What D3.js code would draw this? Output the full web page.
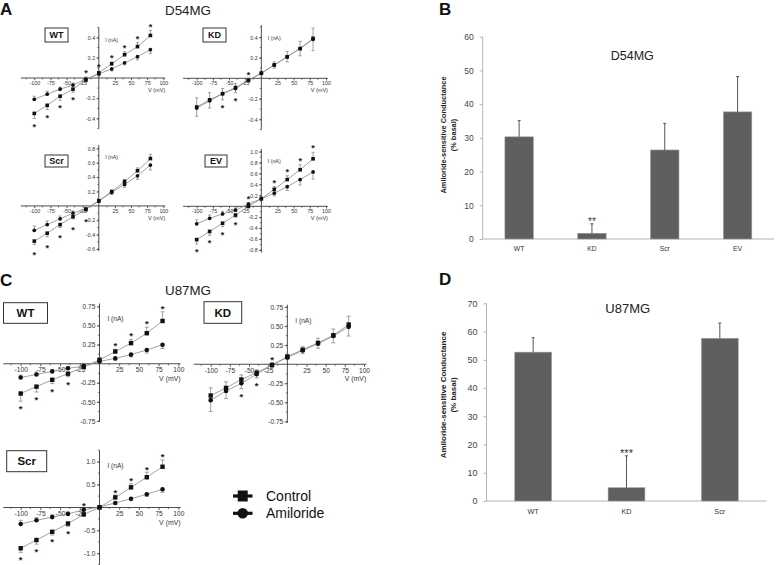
<!DOCTYPE html>
<html><head><meta charset="utf-8">
<script src="https://cdn.jsdelivr.net/npm/d3@7"></script>
<style>body{margin:0;background:#fff} svg{display:block;font-family:"Liberation Sans",Arial,sans-serif}</style>
</head><body><svg id="c" width="777" height="565"></svg>
<script>
// ---------------- DATA ----------------
const voltages = [-100, -80, -60, -40, -20, 0, 20, 40, 60, 80];
const ivXTicks = [-100, -75, -50, -25, 25, 50, 75, 100];

// Panel A (D54MG)
const aWT_control   = [-0.35, -0.27, -0.18, -0.11, -0.02, 0.05, 0.14, 0.23, 0.31, 0.42];
const aWT_amiloride = [-0.21, -0.16, -0.11, -0.07, -0.01, 0.04, 0.09, 0.15, 0.21, 0.28];
const aWT_controlErr   = [0.05, 0.04, 0.04, 0.03, 0.02, 0.02, 0.02, 0.03, 0.04, 0.05];
const aWT_amilorideErr = [0.03, 0.03, 0.02, 0.02, 0.02, 0.02, 0.02, 0.02, 0.03, 0.04];
const aWT_starsBelow = [-100, -80, -60, -40];
const aWT_starsAbove = [-20, 0, 20, 40, 60, 80];
const aWT_yTicks = [0.4, 0.2, -0.2, -0.4];

const aKD_control   = [-0.28, -0.21, -0.15, -0.09, -0.02, 0.05, 0.13, 0.21, 0.29, 0.39];
const aKD_amiloride = [-0.29, -0.22, -0.15, -0.10, -0.02, 0.05, 0.13, 0.21, 0.29, 0.38];
const aKD_controlErr   = [0.09, 0.07, 0.06, 0.04, 0.02, 0.02, 0.03, 0.05, 0.07, 0.10];
const aKD_amilorideErr = [0.08, 0.07, 0.05, 0.04, 0.02, 0.02, 0.03, 0.05, 0.07, 0.11];
const aKD_starsBelow = [-60, -40];
const aKD_starsAbove = [-20];
const aKD_yTicks = [0.4, 0.2, -0.2, -0.4];

const aScr_control   = [-0.49, -0.38, -0.26, -0.15, -0.05, 0.07, 0.20, 0.34, 0.49, 0.66];
const aScr_amiloride = [-0.34, -0.26, -0.18, -0.10, -0.04, 0.07, 0.19, 0.30, 0.42, 0.57];
const aScr_controlErr   = [0.05, 0.05, 0.04, 0.03, 0.02, 0.02, 0.02, 0.03, 0.04, 0.06];
const aScr_amilorideErr = [0.06, 0.05, 0.04, 0.03, 0.02, 0.02, 0.03, 0.04, 0.05, 0.07];
const aScr_starsBelow = [-100, -80, -60, -40, -20];
const aScr_starsAbove = [];
const aScr_yTicks = [0.8, 0.6, 0.4, 0.2, -0.2, -0.4, -0.6];

const aEV_control   = [-0.61, -0.46, -0.31, -0.16, 0.00, 0.14, 0.31, 0.49, 0.67, 0.87];
const aEV_amiloride = [-0.32, -0.22, -0.14, -0.07, 0.04, 0.14, 0.24, 0.36, 0.49, 0.63];
const aEV_controlErr   = [0.08, 0.07, 0.06, 0.04, 0.03, 0.03, 0.05, 0.07, 0.09, 0.12];
const aEV_amilorideErr = [0.07, 0.06, 0.05, 0.04, 0.03, 0.03, 0.05, 0.07, 0.10, 0.13];
const aEV_starsBelow = [-100, -80, -60, -40];
const aEV_starsAbove = [-20, 20, 40, 60, 80];
const aEV_yTicks = [1.0, 0.8, 0.6, 0.4, 0.2, -0.2, -0.4, -0.6, -0.8];

// Panel C (U87MG)
const cWT_control   = [-0.39, -0.30, -0.21, -0.13, -0.04, 0.05, 0.16, 0.27, 0.40, 0.56];
const cWT_amiloride = [-0.18, -0.14, -0.10, -0.06, -0.03, 0.03, 0.07, 0.12, 0.18, 0.25];
const cWT_controlErr   = [0.10, 0.07, 0.05, 0.04, 0.03, 0.03, 0.03, 0.05, 0.08, 0.12];
const cWT_amilorideErr = [0.03, 0.03, 0.02, 0.02, 0.02, 0.02, 0.02, 0.03, 0.04, 0.05];
const cWT_starsBelow = [-100, -80, -60, -40];
const cWT_starsAbove = [20, 40, 60, 80];
const cWT_yTicks = [0.75, 0.5, 0.25, -0.25, -0.5, -0.75];

const cKD_control   = [-0.41, -0.31, -0.20, -0.11, -0.01, 0.10, 0.19, 0.28, 0.38, 0.52];
const cKD_amiloride = [-0.47, -0.35, -0.25, -0.13, -0.01, 0.09, 0.18, 0.27, 0.37, 0.49];
const cKD_controlErr   = [0.10, 0.08, 0.06, 0.04, 0.03, 0.03, 0.04, 0.06, 0.08, 0.11];
const cKD_amilorideErr = [0.15, 0.10, 0.07, 0.05, 0.03, 0.03, 0.04, 0.06, 0.09, 0.12];
const cKD_starsBelow = [-60, -40];
const cKD_starsAbove = [-20];
const cKD_yTicks = [0.75, 0.5, 0.25, -0.25, -0.5, -0.75];

const cScr_control   = [-0.89, -0.71, -0.53, -0.35, -0.15, 0.00, 0.22, 0.44, 0.66, 0.89];
const cScr_amiloride = [-0.36, -0.28, -0.21, -0.14, -0.05, 0.01, 0.10, 0.19, 0.29, 0.40];
const cScr_controlErr   = [0.09, 0.09, 0.07, 0.06, 0.04, 0.03, 0.05, 0.08, 0.11, 0.15];
const cScr_amilorideErr = [0.08, 0.06, 0.05, 0.04, 0.03, 0.02, 0.03, 0.04, 0.05, 0.07];
const cScr_starsBelow = [-100, -80, -60, -40];
const cScr_starsAbove = [-20, 20, 40, 60, 80];
const cScr_yTicks = [1.0, 0.5, -0.5, -1.0];

// Panel B (D54MG bars)
const bCategories = ["WT", "KD", "Scr", "EV"];
const bValues = [30.3, 1.7, 26.4, 37.7];
const bErrors = [4.8, 2.8, 7.9, 10.5];
const bSignif = ["", "**", "", ""];
const bYTicks = [0, 10, 20, 30, 40, 50, 60];

// Panel D (U87MG bars)
const dCategories = ["WT", "KD", "Scr"];
const dValues = [52.7, 4.7, 57.6];
const dErrors = [5.1, 11.3, 5.4];
const dSignif = ["", "***", ""];
const dYTicks = [0, 10, 20, 30, 40, 50, 60, 70];

const legendLabels = ["Control", "Amiloride"];

// ---------------- DRAW ----------------
const svg = d3.select("#c");
const hy = s => s.replace("\u2212", "-");

function drawIV(cfg, label, ctrl, amil, ctrlErr, amilErr, starsBelow, starsAbove, yTicks) {
  const x = d3.scaleLinear().domain([-100, 100]).range([cfg.x1, cfg.x2]);
  const y = d3.scaleLinear().domain([cfg.yv1, cfg.yv2]).range([cfg.yp1, cfg.yp2]);
  const g = svg.append("g");
  const x0 = x(0), y0 = y(0);
  const axisCol = "#3a3a3a";

  const xMinor = d3.range(-112.5, 100, 25);
  g.selectAll(".xm").data(xMinor).join("line")
    .attr("x1", d => x(d)).attr("x2", d => x(d)).attr("y1", y0).attr("y2", y0 + 1.5)
    .attr("stroke", axisCol).attr("stroke-width", 0.7);
  const ystep = Math.abs(yTicks[0] - yTicks[1]);
  const yMinor = d3.range(-Math.floor(Math.abs(cfg.ymin) / (ystep / 2)), Math.floor(cfg.ymax / (ystep / 2)) + 1)
    .map(k => k * ystep / 2).filter(v => Math.abs(v) > 1e-9);
  g.selectAll(".ym").data(yMinor).join("line")
    .attr("x1", x0 - 1.5).attr("x2", x0).attr("y1", d => y(d)).attr("y2", d => y(d))
    .attr("stroke", axisCol).attr("stroke-width", 0.7);

  g.append("line").attr("x1", x(cfg.xmin)).attr("x2", x(cfg.xmax)).attr("y1", y0).attr("y2", y0)
    .attr("stroke", axisCol).attr("stroke-width", 0.9);
  g.append("line").attr("x1", x0).attr("x2", x0).attr("y1", y(cfg.ymax)).attr("y2", y(cfg.ymin))
    .attr("stroke", axisCol).attr("stroke-width", 0.9);

  const gx = g.append("g").attr("transform", `translate(0,${y0})`)
    .call(d3.axisBottom(x).tickValues(ivXTicks).tickSize(cfg.tick).tickSizeOuter(0).tickPadding(1)
      .tickFormat(d => hy(d3.format("d")(d))));
  gx.select(".domain").remove();
  gx.attr("font-family", null).attr("font-size", cfg.fs);
  gx.selectAll("line").attr("stroke", axisCol).attr("stroke-width", 0.8);
  gx.selectAll("text").attr("fill", "#333");

  const gy = g.append("g").attr("transform", `translate(${x0},0)`)
    .call(d3.axisLeft(y).tickValues(yTicks).tickSize(cfg.tick).tickSizeOuter(0).tickPadding(1.5)
      .tickFormat(d => hy(d3.format(cfg.yfmt)(d))));
  gy.select(".domain").remove();
  gy.attr("font-family", null).attr("font-size", cfg.fs);
  gy.selectAll("line").attr("stroke", axisCol).attr("stroke-width", 0.8);
  gy.selectAll("text").attr("fill", "#333");

  g.append("text").attr("x", x0 + cfg.fs * 1.2).attr("y", y(cfg.ymax) + cfg.iOff)
    .attr("font-size", cfg.fs).attr("fill", "#333").text("I (nA)");
  g.append("text").attr("x", x(cfg.xmax)).attr("y", y0 + cfg.vOff).attr("text-anchor", "end")
    .attr("font-size", cfg.fs * 1.05).attr("fill", "#333").text("V (mV)");

  g.append("rect").attr("x", cfg.box[0]).attr("y", cfg.box[1]).attr("width", cfg.box[2]).attr("height", cfg.box[3])
    .attr("fill", "#fff").attr("stroke", "#333").attr("stroke-width", 1);
  g.append("text").attr("x", cfg.box[0] + cfg.box[2] / 2).attr("y", cfg.box[1] + cfg.box[3] / 2 + cfg.boxFs * 0.36)
    .attr("text-anchor", "middle").attr("font-weight", "bold").attr("font-size", cfg.boxFs).attr("fill", "#111")
    .text(label);

  const line = d3.line().x((d, i) => x(voltages[i])).y(d => y(d));
  [amil, ctrl].forEach(s => g.append("path").attr("d", line(s)).attr("fill", "none")
    .attr("stroke", "#8a8a8a").attr("stroke-width", 0.8));

  const eb = [];
  voltages.forEach((v, i) => {
    const s = (ctrl[i] + amil[i]) >= 0 ? 1 : -1;
    const ctrlOuter = s * ctrl[i] >= s * amil[i];
    eb.push({ v, val: ctrl[i], end: ctrl[i] + (ctrlOuter ? s : -s) * ctrlErr[i] });
    eb.push({ v, val: amil[i], end: amil[i] + (ctrlOuter ? -s : s) * amilErr[i] });
  });
  const ebG = g.append("g").attr("stroke", "#8a8a8a").attr("stroke-width", 0.8);
  ebG.selectAll(".e").data(eb).join("line")
    .attr("x1", d => x(d.v)).attr("x2", d => x(d.v)).attr("y1", d => y(d.val)).attr("y2", d => y(d.end));
  ebG.selectAll(".c").data(eb).join("line")
    .attr("x1", d => x(d.v) - cfg.cap).attr("x2", d => x(d.v) + cfg.cap).attr("y1", d => y(d.end)).attr("y2", d => y(d.end));

  g.selectAll(".sq").data(ctrl).join("rect")
    .attr("x", (d, i) => x(voltages[i]) - cfg.ms / 2).attr("y", d => y(d) - cfg.ms / 2)
    .attr("width", cfg.ms).attr("height", cfg.ms).attr("fill", "#111");
  g.selectAll(".ci").data(amil).join("circle")
    .attr("cx", (d, i) => x(voltages[i])).attr("cy", d => y(d)).attr("r", cfg.ms * 0.52).attr("fill", "#111");

  const sfs = cfg.sfs;
  const starPos = [];
  starsBelow.forEach(v => {
    const i = voltages.indexOf(v);
    const lo = Math.min(ctrl[i] - ctrlErr[i], amil[i] - amilErr[i]);
    starPos.push({ v, py: y(lo) + cfg.sOff });
  });
  starsAbove.forEach(v => {
    const i = voltages.indexOf(v);
    const hi = Math.max(ctrl[i] + ctrlErr[i], amil[i] + amilErr[i]);
    starPos.push({ v, py: y(hi) - cfg.sOff });
  });
  g.selectAll(".st").data(starPos).join("text")
    .attr("x", d => x(d.v)).attr("y", d => d.py + sfs * 0.58).attr("text-anchor", "middle")
    .attr("font-size", sfs).attr("font-weight", "bold").attr("fill", "#222").text("*");
}

const A = { x1: 34.3, x2: 163.3, xmin: -121, xmax: 103, tick: 2.2, fs: 5.3, cap: 1.6, ms: 3.6, sfs: 9, sOff: 6, iOff: 15, vOff: 14, boxFs: 9, yfmt: ".1f" };
drawIV({ ...A, yv1: 0.4, yv2: -0.4, yp1: 37.5, yp2: 118.5, ymin: -0.5, ymax: 0.5, box: [45, 28, 23, 14] },
  "WT", aWT_control, aWT_amiloride, aWT_controlErr, aWT_amilorideErr, aWT_starsBelow, aWT_starsAbove, aWT_yTicks);
drawIV({ ...A, x1: 196.7, x2: 326, yv1: 0.4, yv2: -0.4, yp1: 37.3, yp2: 119.3, ymin: -0.5, ymax: 0.52, box: [203, 28, 23, 14] },
  "KD", aKD_control, aKD_amiloride, aKD_controlErr, aKD_amilorideErr, aKD_starsBelow, aKD_starsAbove, aKD_yTicks);
drawIV({ ...A, yv1: 0.8, yv2: -0.6, yp1: 148.5, yp2: 249, ymin: -0.63, ymax: 0.85, box: [45, 155, 23, 12], iOff: 14, sOff: 8.5 },
  "Scr", aScr_control, aScr_amiloride, aScr_controlErr, aScr_amilorideErr, aScr_starsBelow, aScr_starsAbove, aScr_yTicks);
drawIV({ ...A, x1: 196.7, x2: 326, yv1: 1.0, yv2: -0.8, yp1: 151.7, yp2: 250, ymin: -0.85, ymax: 1.05, box: [205, 155, 22, 12], iOff: 14 },
  "EV", aEV_control, aEV_amiloride, aEV_controlErr, aEV_amilorideErr, aEV_starsBelow, aEV_starsAbove, aEV_yTicks);

const C = { x1: 20.7, x2: 178.3, xmin: -122, xmax: 103, tick: 2.6, fs: 6.6, cap: 2, ms: 4.4, sfs: 9.5, sOff: 5.5, iOff: 18, vOff: 17, boxFs: 11.5, yfmt: ".2f" };
drawIV({ ...C, yv1: 0.75, yv2: -0.75, yp1: 306.5, yp2: 421, ymin: -0.76, ymax: 0.79, box: [3.5, 302.7, 44, 20.6] },
  "WT", cWT_control, cWT_amiloride, cWT_controlErr, cWT_amilorideErr, cWT_starsBelow, cWT_starsAbove, cWT_yTicks);
drawIV({ ...C, x1: 210.7, x2: 364, yv1: 0.75, yv2: -0.75, yp1: 307, yp2: 421.5, ymin: -0.77, ymax: 0.78, box: [204, 301.7, 37.7, 21.6] },
  "KD", cKD_control, cKD_amiloride, cKD_controlErr, cKD_amilorideErr, cKD_starsBelow, cKD_starsAbove, cKD_yTicks);
drawIV({ ...C, yv1: 1.0, yv2: -1.0, yp1: 461.7, yp2: 553.3, ymin: -1.25, ymax: 1.25, yfmt: ".1f", box: [6.7, 450.7, 40, 21], iOff: 18, sOff: 5 },
  "Scr", cScr_control, cScr_amiloride, cScr_controlErr, cScr_amilorideErr, cScr_starsBelow, cScr_starsAbove, cScr_yTicks);

function drawBars(cfg, cats, vals, errs, sig, yTicks) {
  const x = d3.scaleBand().domain(cats).range([cfg.xa, cfg.xb]).paddingInner(cfg.pad).paddingOuter(cfg.pad / 2);
  const y = d3.scaleLinear().domain([0, cfg.ymax]).range([cfg.y0, cfg.yTop]);
  const g = svg.append("g");
  g.append("line").attr("x1", cfg.xa).attr("x2", cfg.xb).attr("y1", cfg.y0).attr("y2", cfg.y0).attr("stroke", "#b5b5b5");
  const gy = g.append("g").attr("transform", `translate(${cfg.xa},0)`)
    .call(d3.axisLeft(y).tickValues(yTicks).tickSize(3).tickPadding(6).tickFormat(d3.format("d")));
  gy.attr("font-family", null).attr("font-size", cfg.fs);
  gy.select(".domain").attr("stroke", "#b5b5b5").attr("d", `M0,${cfg.y0}V${cfg.yTop}`);
  gy.selectAll("line").attr("stroke", "#b5b5b5");
  gy.selectAll("text").attr("fill", "#444");

  g.selectAll(".bar").data(vals).join("rect")
    .attr("x", (d, i) => x(cats[i])).attr("y", d => y(d)).attr("width", x.bandwidth())
    .attr("height", d => cfg.y0 - y(d)).attr("fill", "#5f5f5f").attr("stroke", "#9a9a9a").attr("stroke-width", 0.6);
  const cx = i => x(cats[i]) + x.bandwidth() / 2;
  g.selectAll(".eb").data(vals).join("line")
    .attr("x1", (d, i) => cx(i)).attr("x2", (d, i) => cx(i)).attr("y1", d => y(d)).attr("y2", (d, i) => y(d + errs[i]))
    .attr("stroke", "#555").attr("stroke-width", 1);
  g.selectAll(".ec").data(vals).join("line")
    .attr("x1", (d, i) => cx(i) - 1.5).attr("x2", (d, i) => cx(i) + 1.5).attr("y1", (d, i) => y(d + errs[i])).attr("y2", (d, i) => y(d + errs[i]))
    .attr("stroke", "#555").attr("stroke-width", 1);
  g.selectAll(".sg").data(sig).join("text")
    .attr("x", (d, i) => cx(i)).attr("y", (d, i) => y(vals[i] + errs[i]) + 1.5)
    .attr("text-anchor", "middle").attr("font-size", cfg.sfs).attr("fill", "#333").text(d => d);
  g.selectAll(".cl").data(cats).join("text")
    .attr("x", (d, i) => cx(i)).attr("y", cfg.y0 + cfg.clOff).attr("text-anchor", "middle")
    .attr("font-size", cfg.cfs).attr("fill", "#333").text(d => d);
  g.append("text").attr("x", cfg.tx).attr("y", cfg.ty).attr("text-anchor", "middle")
    .attr("font-size", cfg.tfs).attr("fill", "#222").text(cfg.title);
  const lab = g.append("g").attr("transform", `translate(0,${cfg.ly}) rotate(-90)`);
  lab.append("text").attr("x", 0).attr("y", cfg.lx1).attr("text-anchor", "middle").attr("font-weight", "bold")
    .attr("font-size", cfg.lfs).attr("fill", "#222").text("Amiloride-sensitive Conductance");
  lab.append("text").attr("x", 0).attr("y", cfg.lx2).attr("text-anchor", "middle").attr("font-weight", "bold")
    .attr("font-size", cfg.lfs).attr("fill", "#222").text("(% basal)");
}

drawBars({ xa: 482.7, xb: 774, pad: 0.61, y0: 239, yTop: 36.7, ymax: 60, fs: 8.5, sfs: 10, cfs: 6.8, clOff: 12,
  tx: 632.3, ty: 60, tfs: 12.5, title: "D54MG", ly: 135, lx1: 445.8, lx2: 455.5, lfs: 7.4 },
  bCategories, bValues, bErrors, bSignif, bYTicks);
drawBars({ xa: 486.5, xb: 766.5, pad: 0.606, y0: 501, yTop: 303.3, ymax: 70, fs: 9, sfs: 11, cfs: 7.3, clOff: 13,
  tx: 627.7, ty: 312.7, tfs: 13, title: "U87MG", ly: 395, lx1: 446, lx2: 456, lfs: 8 },
  dCategories, dValues, dErrors, dSignif, dYTicks);

[["A", 0, 15], ["B", 439, 15], ["C", 0, 285.5], ["D", 439, 285]].forEach(([t, x, y]) =>
  svg.append("text").attr("x", x).attr("y", y).attr("font-weight", "bold").attr("font-size", 17).attr("fill", "#111").text(t));
svg.append("text").attr("x", 188).attr("y", 15).attr("text-anchor", "middle").attr("font-size", 13.3).attr("fill", "#222").text("D54MG");
svg.append("text").attr("x", 188).attr("y", 295).attr("text-anchor", "middle").attr("font-size", 13.3).attr("fill", "#222").text("U87MG");

const lg = svg.append("g");
const ly = [496, 513.3];
ly.forEach((yy, i) => {
  lg.append("line").attr("x1", 233).attr("x2", 252.5).attr("y1", yy).attr("y2", yy).attr("stroke", "#111").attr("stroke-width", 3.2);
  if (i === 0) lg.append("rect").attr("x", 237.7).attr("y", yy - 5.5).attr("width", 10).attr("height", 11).attr("fill", "#111");
  else lg.append("circle").attr("cx", 242.7).attr("cy", yy).attr("r", 5.3).attr("fill", "#111");
  lg.append("text").attr("x", 266).attr("y", yy + 5).attr("font-size", 14).attr("fill", "#111").text(legendLabels[i]);
});
</script></body></html>
